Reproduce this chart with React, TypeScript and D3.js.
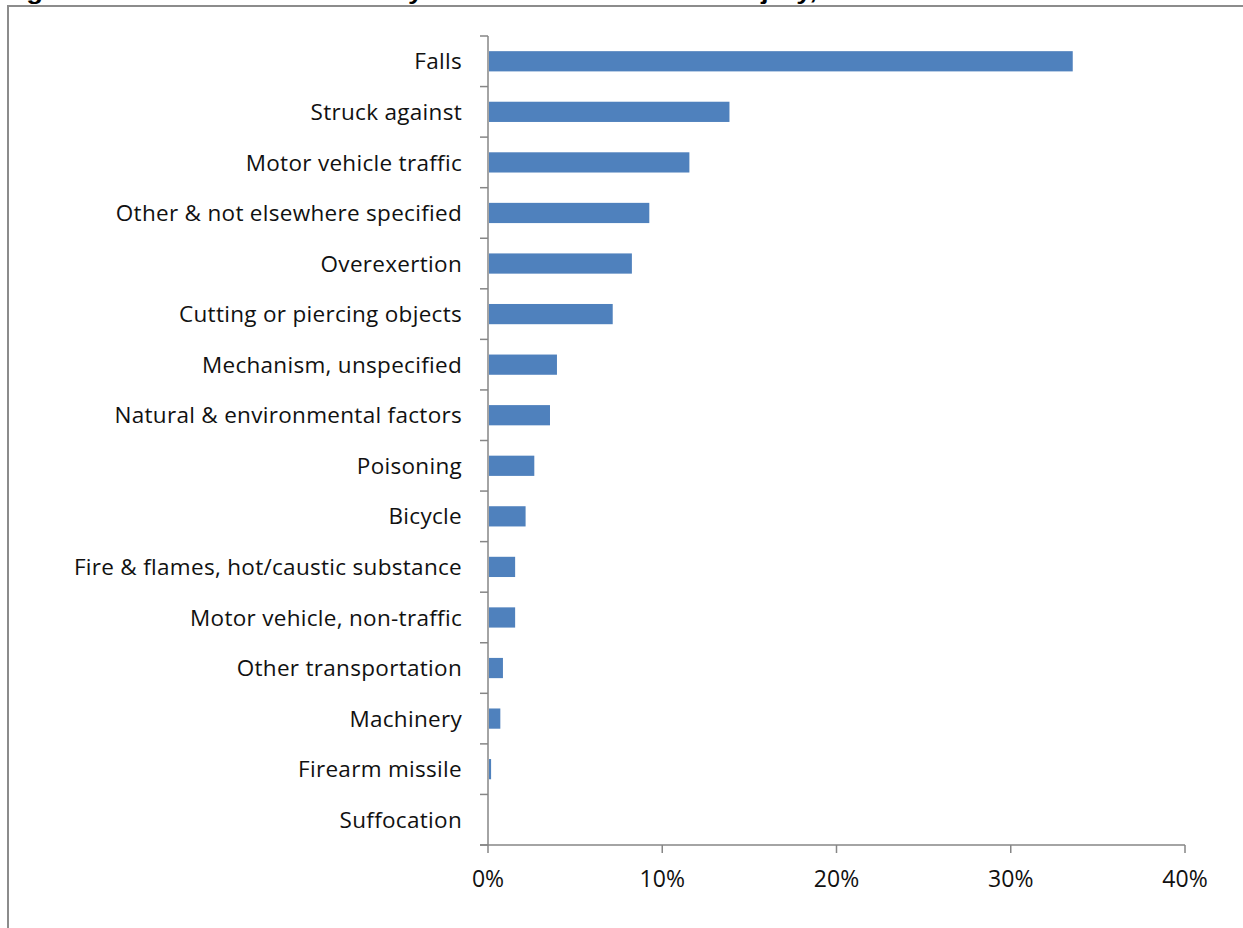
import { useEffect, useRef } from 'react';
import * as d3 from 'd3';

const categories = [
  'Falls', 'Struck against', 'Motor vehicle traffic', 'Other & not elsewhere specified',
  'Overexertion', 'Cutting or piercing objects', 'Mechanism, unspecified',
  'Natural & environmental factors', 'Poisoning', 'Bicycle', 'Fire & flames, hot/caustic substance',
  'Motor vehicle, non-traffic', 'Other transportation', 'Machinery', 'Firearm missile', 'Suffocation',
];
const percents = [33.5, 13.8, 11.5, 9.2, 8.2, 7.1, 3.9, 3.5, 2.6, 2.1, 1.5, 1.5, 0.8, 0.65, 0.12, 0];
const xTicks = [0, 10, 20, 30, 40];
const title = 'Figure 3. Percent of ED Visits by Cause of Unintentional Injury, Utah 2008';

const W = 1243;
const H = 928;

export default function App() {
  const ref = useRef<SVGSVGElement | null>(null);
  useEffect(() => {
    const svg = d3.select(ref.current!);
    svg.selectAll('*').remove();
    const font = '"Open Sans", Lato, sans-serif';
    const axisColor = '#868686';

    svg.append('rect').attr('width', W).attr('height', H).attr('fill', '#fff');
    // title sits above the frame, only its descenders show
    svg.append('text').attr('x', 2).attr('y', -1).attr('font-family', 'Liberation Sans, Arial, sans-serif')
      .attr('font-size', 22).attr('font-weight', 'bold').attr('fill', '#000')
      .attr('textLength', 952).attr('lengthAdjust', 'spacingAndGlyphs').text(title);
    // chart frame
    svg.append('rect').attr('x', 8).attr('y', 6).attr('width', W + 20).attr('height', H + 20)
      .attr('fill', '#fff').attr('stroke', '#8c8c8c').attr('stroke-width', 2);

    const left = 488, right = 1185, top = 36, bottom = 845;
    const x = d3.scaleLinear().domain([0, 40]).range([left, right]);
    const y = d3.scaleBand<string>().domain(categories).range([top, bottom]).paddingInner(0).paddingOuter(0);
    const bh = y.bandwidth() / 2.5;

    const g = svg.append('g');
    g.selectAll('.bar').data(categories).enter().append('rect')
      .attr('x', x(0) + 1)
      .attr('y', (d) => (y(d) ?? 0) + (y.bandwidth() - bh) / 2)
      .attr('width', (_, i) => Math.max(0, x(percents[i]) - x(0)))
      .attr('height', bh)
      .attr('fill', '#4f81bd');

    // y axis with category ticks
    g.append('line').attr('x1', left).attr('x2', left).attr('y1', top).attr('y2', bottom)
      .attr('stroke', axisColor).attr('stroke-width', 1.5);
    const yTickPos = categories.map((c) => y(c) ?? 0).concat([bottom]);
    g.selectAll('.ytick').data(yTickPos).enter().append('line')
      .attr('x1', left - 8).attr('x2', left).attr('y1', (d) => d).attr('y2', (d) => d)
      .attr('stroke', axisColor).attr('stroke-width', 1.5);
    g.selectAll('.ylab').data(categories).enter().append('text')
      .attr('x', 462).attr('y', (d) => (y(d) ?? 0) + y.bandwidth() / 2)
      .attr('dy', '0.36em').attr('text-anchor', 'end')
      .attr('font-family', font).attr('font-size', 22.5).attr('letter-spacing', 0.3)
      .attr('fill', '#111').text((d) => d);

    // x axis
    g.append('line').attr('x1', left - 8).attr('x2', right).attr('y1', bottom).attr('y2', bottom)
      .attr('stroke', axisColor).attr('stroke-width', 1.5);
    g.selectAll('.xtick').data(xTicks).enter().append('line')
      .attr('x1', (d) => x(d)).attr('x2', (d) => x(d)).attr('y1', bottom).attr('y2', bottom + 8)
      .attr('stroke', axisColor).attr('stroke-width', 1.5);
    g.selectAll('.xlab').data(xTicks).enter().append('text')
      .attr('x', (d) => x(d)).attr('y', 887).attr('text-anchor', 'middle')
      .attr('font-family', font).attr('font-size', 23).attr('fill', '#111').text((d) => `${d}%`);
  }, []);
  return (
    <svg ref={ref} width={W} height={H} viewBox={`0 0 ${W} ${H}`}
      style={{ position: 'absolute', left: 0, top: 0, display: 'block' }} />
  );
}
